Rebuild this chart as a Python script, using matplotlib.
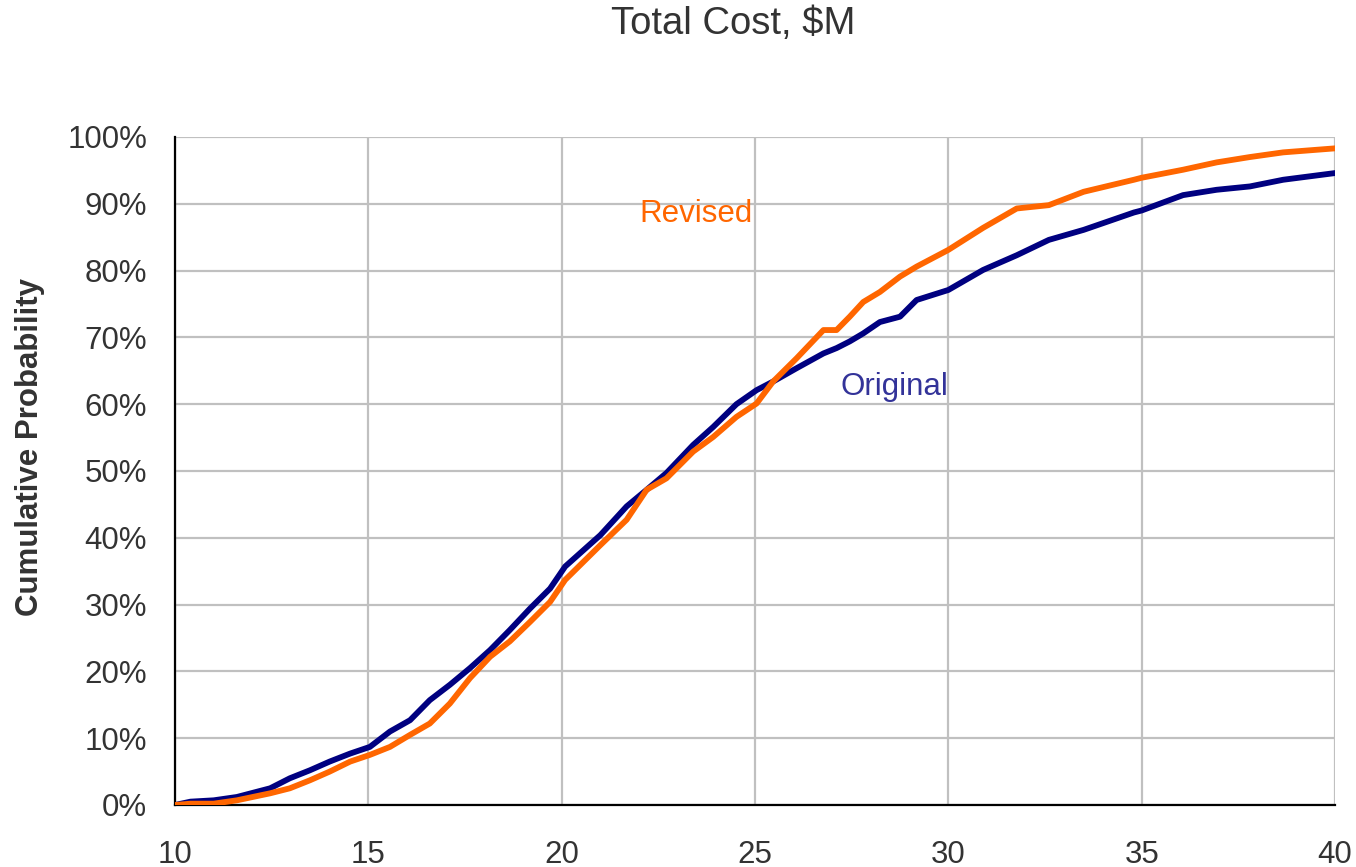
import numpy as np
import matplotlib.pyplot as plt
from matplotlib.ticker import PercentFormatter

plt.rcParams['font.family'] = ['Liberation Sans', 'DejaVu Sans']

# cost in $M
cost_original = [10.0, 10.4, 11.0, 11.6, 12.46, 12.97, 13.49, 14.0, 14.53, 15.04,
                 15.56, 16.08, 16.59, 17.11, 17.63, 18.15, 18.66, 19.18, 19.7, 20.09,
                 21.0, 21.68, 22.2, 22.71, 23.4, 23.92, 24.52, 25.04, 25.47, 26.08,
                 26.77, 27.11, 27.45, 27.8, 28.23, 28.75, 29.18, 30.0, 30.9, 31.77,
                 32.6, 33.5, 34.8, 35.0, 36.07, 36.94, 37.8, 38.66, 40.0]
prob_original = [0.0, 0.5, 0.7, 1.2, 2.5, 4.0, 5.2, 6.5, 7.7, 8.7,
                 11.0, 12.7, 15.7, 18.0, 20.5, 23.2, 26.2, 29.4, 32.4, 35.7,
                 40.4, 44.7, 47.2, 49.7, 53.9, 56.6, 60.0, 62.1, 63.4, 65.4,
                 67.6, 68.4, 69.4, 70.6, 72.3, 73.1, 75.6, 77.1, 80.1, 82.3,
                 84.6, 86.1, 88.7, 89.0, 91.3, 92.1, 92.6, 93.6, 94.6]

cost_revised = [10.0, 10.4, 11.0, 11.6, 12.46, 12.97, 13.49, 14.0, 14.53, 15.04,
                15.56, 16.08, 16.59, 17.11, 17.63, 18.15, 18.66, 19.18, 19.7, 20.09,
                21.0, 21.68, 22.2, 22.71, 23.4, 23.92, 24.52, 25.04, 25.47, 26.08,
                26.77, 27.11, 27.45, 27.8, 28.23, 28.75, 29.18, 30.0, 30.9, 31.77,
                32.6, 33.5, 34.8, 35.0, 36.07, 36.94, 37.8, 38.66, 40.0]
prob_revised = [0.0, 0.2, 0.2, 0.7, 1.75, 2.5, 3.7, 5.0, 6.5, 7.5,
                8.7, 10.5, 12.2, 15.2, 19.0, 22.2, 24.5, 27.4, 30.4, 33.7,
                38.9, 42.7, 47.2, 48.9, 52.9, 55.1, 58.1, 60.1, 63.4, 66.9,
                71.1, 71.1, 73.1, 75.3, 76.8, 79.1, 80.6, 83.1, 86.4, 89.3,
                89.8, 91.8, 93.6, 93.9, 95.1, 96.2, 97.0, 97.7, 98.3]

fig = plt.figure(figsize=(13.56, 8.67), dpi=100)
ax = fig.add_axes([175 / 1356, 62 / 867, 1160 / 1356, 668 / 867])

ax.plot(cost_original, prob_original, color='#000080', lw=4.2, zorder=3)
ax.plot(cost_revised, prob_revised, color='#FF6600', lw=4.2, zorder=4)

ax.set_xlim(10, 40)
ax.set_ylim(0, 100)
ax.set_xticks(np.arange(10, 41, 5))
ax.set_yticks(np.arange(0, 101, 10))
ax.yaxis.set_major_formatter(PercentFormatter(decimals=0))
ax.grid(True, color='#C0C0C0', lw=1.6)
ax.set_axisbelow(True)
ax.tick_params(length=0, labelsize=22.5, labelcolor='#333333')
ax.tick_params(axis='x', pad=25)
ax.tick_params(axis='y', pad=20)

for side in ['top', 'right']:
    ax.spines[side].set_visible(False)
for side in ['left', 'bottom']:
    ax.spines[side].set_color('black')
    ax.spines[side].set_linewidth(1.6)

ax.text(22.0, 88.5, 'Revised', color='#FF6600', fontsize=22.5, va='center')
ax.text(27.2, 62.5, 'Original', color='#333399', fontsize=22.5, va='center')

fig.text(733 / 1356, 1 - 24 / 867, 'Total Cost, $M', ha='center', va='center',
         fontsize=27.5, color='#333333')
fig.text(30 / 1356, 0.484, 'Cumulative Probability', rotation=90, ha='center',
         va='center', fontsize=22.5, fontweight='bold', color='#333333')

fig.savefig('out.png', dpi=100)
